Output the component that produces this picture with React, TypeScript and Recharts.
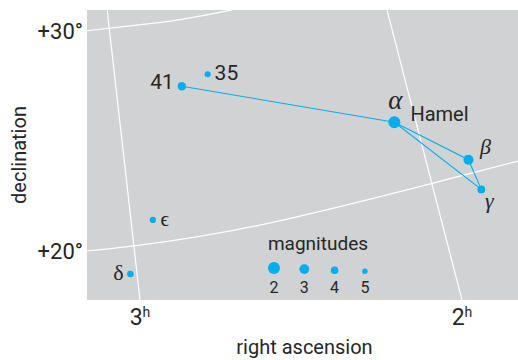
import React from 'react';
import { ComposedChart, XAxis, YAxis, CartesianGrid, Line, Scatter, Legend, Label } from 'recharts';

// stars, positions in axis units (hours / degrees)
const STAR_IDS = ['41', '35', 'alpha', 'beta', 'gamma', 'epsilon', 'delta'];
const STAR_RA = [2.87, 2.79, 2.21, 1.98, 1.94, 2.96, 3.03];
const STAR_DEC = [27.49, 28.03, 25.85, 24.15, 22.8, 21.41, 18.95];
const STAR_MAG = [3.6, 4.7, 2.0, 2.9, 3.9, 4.6, 4.5];
const STAR_LABELS = ['41', '35', 'α', 'β', 'γ', 'ϵ', 'δ'];
const STAR_NAMES: Record<string, string> = { alpha: 'Hamel' };

// constellation figure, drawn in this order
const FIGURE = ['41', 'alpha', 'beta', 'gamma', 'alpha'];

// coordinate grid, points
const DEC30_RA = [3.165, 3.031, 2.876, 2.714];
const DEC30_DEC = [30.01, 30.23, 30.52, 30.96];
const DEC20_RA = [3.165, 3.019, 2.627, 2.099, 1.826];
const DEC20_DEC = [20.0, 20.23, 21.18, 23.05, 24.09];
const RA3_RA = [3.102, 3.0];
const RA3_DEC = [30.96, 17.77];
const RA2_RA = [2.233, 2.0];
const RA2_DEC = [30.96, 17.77];

const RA_TICKS = [3, 2];
const DEC_TICKS = [20, 30];
const LEGEND_MAGS = [2, 3, 4, 5];

const X_DOMAIN: [number, number] = [1.8261, 3.1646];
const Y_DOMAIN: [number, number] = [17.7727, 30.9545];

const BG = '#d1d2d4';
const BLUE = '#00aeef';
const INK = '#262626';
const SANS = 'Roboto, "Open Sans", sans-serif';
const SERIF = '"Liberation Serif", "DejaVu Serif", serif';

const toPoints = (ra: number[], dec: number[]) => ra.map((r, i) => ({ ra: r, dec: dec[i] }));

const stars = STAR_IDS.map((id, i) => ({
  id,
  ra: STAR_RA[i],
  dec: STAR_DEC[i],
  mag: STAR_MAG[i],
  label: STAR_LABELS[i],
}));
const figure = FIGURE.map((id) => stars.find((s) => s.id === id)!);

const magRadius = (mag: number) => 6 - 1.1 * (mag - 2);

// label placement relative to the star
const LABEL_POS: Record<string, { dx: number; dy: number; anchor: string; serif?: boolean; italic?: boolean; size: number }> = {
  '41': { dx: -8, dy: 3, anchor: 'end', size: 21 },
  '35': { dx: 7, dy: 6, anchor: 'start', size: 21 },
  alpha: { dx: 1, dy: -13, anchor: 'middle', serif: true, italic: true, size: 27 },
  beta: { dx: 17, dy: -6, anchor: 'middle', serif: true, italic: true, size: 22 },
  gamma: { dx: 8, dy: 19, anchor: 'middle', serif: true, italic: true, size: 22 },
  epsilon: { dx: 12, dy: 6, anchor: 'middle', serif: true, size: 21 },
  delta: { dx: -12, dy: 6, anchor: 'middle', serif: true, size: 22 },
};

const StarShape = (props: any) => {
  const { cx, cy, payload } = props;
  const pos = LABEL_POS[payload.id];
  const name = STAR_NAMES[payload.id];
  return (
    <g>
      <circle cx={cx} cy={cy} r={magRadius(payload.mag)} fill={BLUE} />
      <text
        x={cx + pos.dx}
        y={cy + pos.dy}
        textAnchor={pos.anchor as any}
        fontFamily={pos.serif ? SERIF : SANS}
        fontStyle={pos.italic ? 'italic' : 'normal'}
        fontSize={pos.size}
        fill={INK}
      >
        {payload.label}
      </text>
      {name && (
        <text x={cx + 16} y={cy - 1} fontFamily={SANS} fontSize={20} fill={INK}>
          {name}
        </text>
      )}
    </g>
  );
};

const RaTick = ({ x, y, payload }: any) => (
  <text x={x} y={y + 25} textAnchor="middle" fontFamily={SANS} fontSize={23} fill={INK}>
    {payload.value}
    <tspan fontSize={14} dy={-8}>h</tspan>
  </text>
);

const DecTick = ({ x, y, payload }: any) => (
  <text x={x - 4} y={y + 8} textAnchor="end" fontFamily={SANS} fontSize={22} fill={INK}>
    {`+${payload.value}°`}
  </text>
);

const MagLegend = () => (
  <svg width={130} height={75}>
    <text x={63} y={25} textAnchor="middle" fontFamily={SANS} fontSize={19} fill={INK}>
      magnitudes
    </text>
    {LEGEND_MAGS.map((m, i) => {
      const r = magRadius(m);
      const cx = 19 + i * 30.3;
      return (
        <g key={m}>
          <circle cx={cx} cy={49 - r} r={r} fill={BLUE} />
          <text x={cx} y={68} textAnchor="middle" fontFamily={SANS} fontSize={16} fill={INK}>
            {m}
          </text>
        </g>
      );
    })}
  </svg>
);

export default function App() {
  return (
    <div style={{ position: 'absolute', left: 0, top: 0 }}>
      <ComposedChart width={518} height={360} margin={{ top: 10, right: 0, bottom: 0, left: 0 }}>
        <CartesianGrid horizontal={false} vertical={false} fill={BG} />
        <XAxis
          type="number"
          dataKey="ra"
          domain={X_DOMAIN}
          reversed
          allowDataOverflow
          ticks={RA_TICKS}
          tick={<RaTick />}
          axisLine={false}
          tickLine={false}
          tickSize={0}
          tickMargin={0}
          height={60}
        >
          <Label
            content={({ viewBox }: any) => (
              <text
                x={viewBox.x + viewBox.width / 2 + 2}
                y={viewBox.y + 54}
                textAnchor="middle"
                fontFamily={SANS}
                fontSize={20}
                fill={INK}
              >
                right ascension
              </text>
            )}
          />
        </XAxis>
        <YAxis
          type="number"
          dataKey="dec"
          domain={Y_DOMAIN}
          allowDataOverflow
          ticks={DEC_TICKS}
          tick={<DecTick />}
          axisLine={false}
          tickLine={false}
          tickSize={0}
          tickMargin={0}
          width={87}
        >
          <Label
            content={({ viewBox }: any) => (
              <text
                x={26}
                y={viewBox.y + viewBox.height / 2}
                transform={`rotate(-90 26 ${viewBox.y + viewBox.height / 2})`}
                textAnchor="middle"
                fontFamily={SANS}
                fontSize={20}
                fill={INK}
              >
                declination
              </text>
            )}
          />
        </YAxis>
        <Line data={toPoints(DEC30_RA, DEC30_DEC)} dataKey="dec" type="natural" stroke="#ffffff" strokeWidth={1.2} dot={false} isAnimationActive={false} />
        <Line data={toPoints(DEC20_RA, DEC20_DEC)} dataKey="dec" type="natural" stroke="#ffffff" strokeWidth={1.2} dot={false} isAnimationActive={false} />
        <Line data={toPoints(RA3_RA, RA3_DEC)} dataKey="dec" type="linear" stroke="#ffffff" strokeWidth={1.2} dot={false} isAnimationActive={false} />
        <Line data={toPoints(RA2_RA, RA2_DEC)} dataKey="dec" type="linear" stroke="#ffffff" strokeWidth={1.2} dot={false} isAnimationActive={false} />
        <Line data={figure} dataKey="dec" type="linear" stroke={BLUE} strokeWidth={1.1} dot={false} isAnimationActive={false} />
        <Scatter data={stars} dataKey="dec" shape={<StarShape />} isAnimationActive={false} />
        <Legend
          verticalAlign="middle"
          align="center"
          layout="horizontal"
          content={<MagLegend />}
          wrapperStyle={{ position: 'absolute', left: 255, top: 225, width: 130, height: 75 }}
        />
      </ComposedChart>
    </div>
  );
}
